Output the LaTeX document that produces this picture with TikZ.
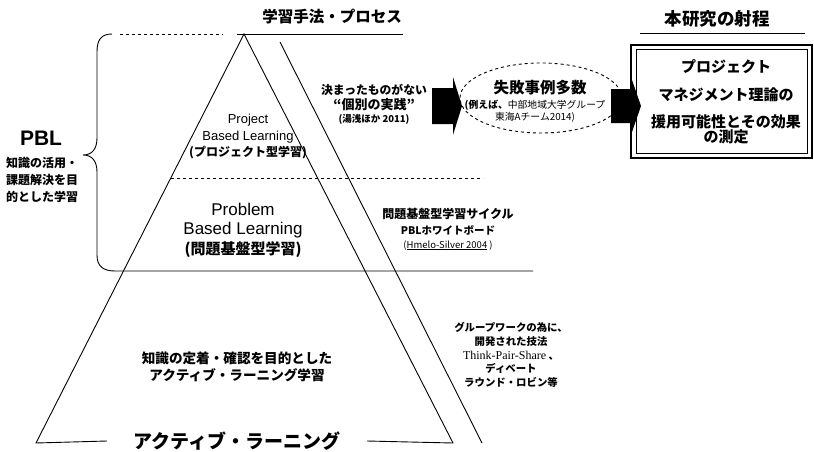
\documentclass[tikz,border=0pt]{standalone}
\usepackage{fontspec}
\usetikzlibrary{shapes.geometric}
\setmainfont{Liberation Sans}
\newfontfamily\jp{Noto Sans CJK JP}
\newfontfamily\srf{Liberation Serif}
\newcommand{\fs}[2]{\fontsize{#1}{#2}\selectfont}
\tikzset{
  ln/.style={line width=0.9pt},
  txt/.style={inner sep=0pt, align=center},
}
\begin{document}
\begin{tikzpicture}[x=1pt,y=-1pt]
\useasboundingbox (0,0) rectangle (814,452);

% titles
\node[txt,font=\jp\bfseries\fs{15.5}{18}] (t1) at (332,17) {学習手法・プロセス};
\node[txt,font=\jp\bfseries\fs{17.5}{20}] (t2) at (717,19) {本研究の射程};
\coordinate (u1a) at (237,34); \coordinate (u1b) at (403,34);
\draw[ln] (u1a) -- (u1b);
\coordinate (u2a) at (640,33); \coordinate (u2b) at (805,33);
\draw[ln] (u2a) -- (u2b);

% pyramid
\coordinate (A) at (244,34);
\coordinate (BL) at (36,443);
\coordinate (BR) at (453,443);
\node[txt,font=\jp\bfseries\fs{19}{22}] (al) at (237,441) {アクティブ・ラーニング};
\draw[ln] (al.west -| 107,0) -- (BL) -- (A) -- (BR) -- (al.east -| 367,0);
\coordinate (P1) at (280,42); \coordinate (P2) at (482,443);
\draw[ln] (P1) -- (P2);

% dashed PBL divider and solid divider
\coordinate (d1) at (171,178); \coordinate (d2) at (483,178);
\draw[ln,dashed] (d1) -- (d2);

% brace
\coordinate (bt) at (120,34); \coordinate (bte) at (223,34);
\draw[ln,dashed] (bt) -- (bte);
\coordinate (be) at (533,271);
\draw[ln] (112,34) .. controls (101,34) and (97,40) .. (97,52) -- (97,138)
  .. controls (97,149) and (92,155) .. (83,155)
  .. controls (92,155) and (97,161) .. (97,172) -- (97,255)
  .. controls (97,266) and (103,271) .. (115,271) -- (be);

% PBL labels
\node[txt,font=\bfseries\fs{21}{24}] (pbl) at (41,138) {PBL};
\node[txt,font=\jp\bfseries\fs{12}{17}] (pbls) at (42,180) {知識の活用・\\課題解決を目\\的とした学習};

% pyramid texts
\node[txt,font=\fs{13}{16.5}] (proj) at (248,137) {Project\\Based Learning\\{\jp\bfseries\fs{12}{12}(プロジェクト型学習)}};
\node[txt,font=\fs{17}{19.5}] (prob) at (243,230) {Problem\\Based Learning\\{\jp\bfseries\fs{15}{15}(問題基盤型学習)}};
\node[txt,font=\jp\bfseries\fs{13.6}{17}] (alt) at (237,367) {知識の定着・確認を目的とした\\アクティブ・ラーニング学習};

% right texts
\node[txt,font=\jp\bfseries\fs{11.8}{15.5}] (kobetsu) at (374,104) {決まったものがない\\{\fs{13}{13}“個別の実践”}\\[-3pt]{\fs{9.5}{9.5}(湯浅ほか 2011)}};
\node[txt,font=\jp\bfseries\fs{12}{16.5}] (wb) at (448,229) {問題基盤型学習サイクル\\{\fs{10.5}{10.5}PBLホワイトボード}\\[-3pt]{\jp\mdseries\fs{9.5}{9.5}(\underline{Hmelo-Silver 2004} )}};
\node[txt,font=\jp\bfseries\fs{10.4}{13.6}] (gw) at (511,355) {グループワークの為に、\\開発された技法\\{\srf\mdseries\fs{12}{12}Think-Pair-Share} 、\\ディベート\\ラウンド・ロビン等};

% ellipse
\node[draw,ln,dashed,ellipse,minimum width=162pt,minimum height=70pt,inner sep=0pt] (el) at (541,98) {};
\node[txt,font=\jp\bfseries\fs{15.5}{16}] (el1) at (540,88) {失敗事例多数};
\node[txt,font=\jp\fs{9.8}{12}] (el2) at (535,111) {{\bfseries(例えば、}中部地域大学グループ\\東海Aチーム2014)};

% result box
\draw[line width=2.5pt] (631,45) rectangle (812,158);
\draw[line width=1pt] (636,50) rectangle (807,153);
\node[txt,font=\jp\bfseries\fs{15}{27.5}] (box) at (726,102) {プロジェクト\\マネジメント理論の\\援用可能性とその効果\\[-12.5pt]の測定};

% block arrows
\fill (432,88) -- (453,88) -- (453,77) -- (462,106) -- (453,135) -- (453,124) -- (432,124) -- cycle;
\fill (611,89) -- (632,89) -- (632,80) -- (641,106) -- (632,132) -- (632,123) -- (611,123) -- cycle;
\end{tikzpicture}
\end{document}
